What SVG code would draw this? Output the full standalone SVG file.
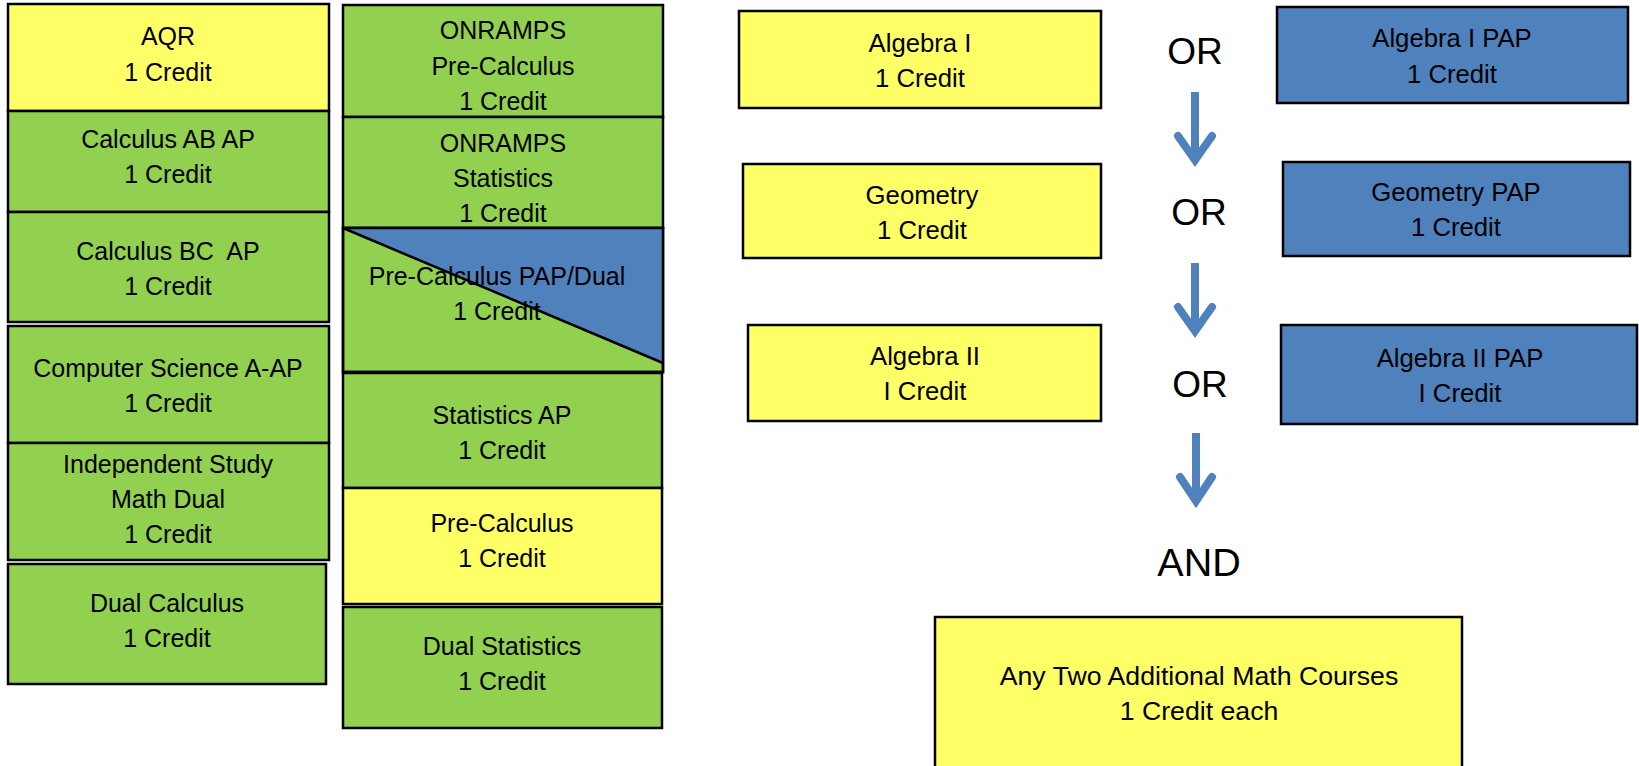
<svg xmlns="http://www.w3.org/2000/svg" width="1639" height="766" viewBox="0 0 1639 766">
<style>
.box{stroke:#000;stroke-width:2.5}
.y{fill:#FFFF66}
.g{fill:#92D050}
.b{fill:#4F81BD}
text{font-family:"Liberation Sans",Arial,sans-serif;fill:#000;text-anchor:middle}
.t{font-size:25px}
.tr{font-size:25.7px}
.tb{font-size:26.7px}
.big{font-size:37px}
.arr{fill:none;stroke:#4F81BD;stroke-width:8}
</style>
<rect width="1639" height="766" fill="#fff"/>
<g id="nodes-left">
<g id="aqr"><rect class="box y" x="8" y="4" width="321" height="107"/><text class="t" x="168" y="45">AQR</text><text class="t" x="168" y="81">1 Credit</text></g>
<g id="calc-ab"><rect class="box g" x="8" y="111" width="321" height="101"/><text class="t" x="168" y="148">Calculus AB AP</text><text class="t" x="168" y="183">1 Credit</text></g>
<g id="calc-bc"><rect class="box g" x="8" y="212" width="321" height="110"/><text class="t" x="168" y="260" xml:space="preserve" style="white-space:pre">Calculus BC  AP</text><text class="t" x="168" y="295">1 Credit</text></g>
<g id="cs"><rect class="box g" x="8" y="326" width="321" height="117"/><text class="t" x="168" y="377">Computer Science A-AP</text><text class="t" x="168" y="412">1 Credit</text></g>
<g id="indep"><rect class="box g" x="8" y="443" width="321" height="117"/><text class="t" x="168" y="473">Independent Study</text><text class="t" x="168" y="508">Math Dual</text><text class="t" x="168" y="543">1 Credit</text></g>
<g id="dual-calc"><rect class="box g" x="8" y="564" width="318" height="120"/><text class="t" x="167" y="612">Dual Calculus</text><text class="t" x="167" y="647">1 Credit</text></g>
</g>
<g id="nodes-mid">
<g id="onr-pc"><rect class="box g" x="343" y="5" width="320" height="112"/><text class="t" x="503" y="39">ONRAMPS</text><text class="t" x="503" y="75">Pre-Calculus</text><text class="t" x="503" y="110">1 Credit</text></g>
<g id="onr-st"><rect class="box g" x="343" y="117" width="320" height="111"/><text class="t" x="503" y="152">ONRAMPS</text><text class="t" x="503" y="187">Statistics</text><text class="t" x="503" y="222">1 Credit</text></g>
<g id="pc-pap"><rect class="box g" x="343" y="228" width="320" height="144"/><polygon class="b" points="343,228 663,228 663,363"/><line x1="343" y1="228" x2="663" y2="363" stroke="#000" stroke-width="2.5"/><rect x="343" y="228" width="320" height="144" fill="none" stroke="#000" stroke-width="2.5"/><text class="t" x="497" y="285">Pre-Calculus PAP/Dual</text><text class="t" x="497" y="320">1 Credit</text></g>
<g id="stat-ap"><rect class="box g" x="343" y="373" width="319" height="115"/><text class="t" x="502" y="424">Statistics AP</text><text class="t" x="502" y="459">1 Credit</text></g>
<g id="pc"><rect class="box y" x="343" y="488" width="319" height="116"/><text class="t" x="502" y="532">Pre-Calculus</text><text class="t" x="502" y="567">1 Credit</text></g>
<g id="dual-stat"><rect class="box g" x="343" y="607" width="319" height="121"/><text class="t" x="502" y="655">Dual Statistics</text><text class="t" x="502" y="690">1 Credit</text></g>
</g>
<g id="nodes-right">
<g id="alg1"><rect class="box y" x="739" y="11" width="362" height="97"/><text class="tr" x="920" y="52">Algebra I</text><text class="tr" x="920" y="87">1 Credit</text></g>
<g id="geo"><rect class="box y" x="743" y="164" width="358" height="94"/><text class="tr" x="922" y="204">Geometry</text><text class="tr" x="922" y="239">1 Credit</text></g>
<g id="alg2"><rect class="box y" x="748" y="325" width="353" height="96"/><text class="tr" x="925" y="365">Algebra II</text><text class="tr" x="925" y="400">I Credit</text></g>
<g id="alg1-pap"><rect class="box b" x="1277" y="7" width="351" height="96"/><text class="tr" x="1452" y="47">Algebra I PAP</text><text class="tr" x="1452" y="83">1 Credit</text></g>
<g id="geo-pap"><rect class="box b" x="1283" y="162" width="347" height="94"/><text class="tr" x="1456" y="201">Geometry PAP</text><text class="tr" x="1456" y="236">1 Credit</text></g>
<g id="alg2-pap"><rect class="box b" x="1281" y="325" width="356" height="99"/><text class="tr" x="1460" y="367">Algebra II PAP</text><text class="tr" x="1460" y="402">I Credit</text></g>
<g id="or1"><text class="big" x="1195" y="64">OR</text></g>
<g id="or2"><text class="big" x="1199" y="225">OR</text></g>
<g id="or3"><text class="big" x="1200" y="397">OR</text></g>
<g id="and"><text class="big" x="1199" y="576" style="font-size:39.5px">AND</text></g>
<g id="additional"><rect class="box y" x="935" y="617" width="527" height="160"/><text class="tb" x="1199" y="685">Any Two Additional Math Courses</text><text class="tb" x="1199" y="720">1 Credit each</text></g>
</g>
<g id="connectors">
<line class="arr" x1="1195" y1="92" x2="1195" y2="160"/>
<polyline class="arr" points="1178,136 1195,160 1212,136" stroke-linecap="round" stroke-linejoin="miter"/>
<line class="arr" x1="1195" y1="263" x2="1195" y2="331"/>
<polyline class="arr" points="1178,307 1195,331 1212,307" stroke-linecap="round" stroke-linejoin="miter"/>
<line class="arr" x1="1196" y1="433" x2="1196" y2="501"/>
<polyline class="arr" points="1180,477 1196,501 1212,477" stroke-linecap="round" stroke-linejoin="miter"/>
</g>
</svg>
